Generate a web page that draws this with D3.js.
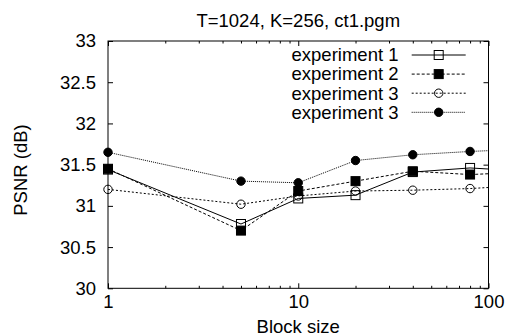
<!DOCTYPE html>
<html><head><meta charset="utf-8">
<script src="https://cdn.jsdelivr.net/npm/d3@7"></script>
<style>
html,body{margin:0;padding:0;background:#fff;}
text{font-family:"Liberation Sans",Arial,sans-serif;fill:#000;}
</style></head>
<body>
<svg id="chart" width="506" height="335"></svg>
<script>
const blockSizes = [1, 5, 10, 20, 40, 80, 160];
const exp1 = [31.44, 30.78, 31.09, 31.13, 31.41, 31.46, 31.42];
const exp2 = [31.45, 30.70, 31.18, 31.30, 31.42, 31.38, 31.41];
const exp3a = [31.20, 31.02, 31.12, 31.18, 31.19, 31.21, 31.25];
const exp3b = [31.65, 31.30, 31.28, 31.55, 31.62, 31.66, 31.69];
const seriesNames = ["experiment 1", "experiment 2", "experiment 3", "experiment 3"];
const xTicks = [1, 10, 100];
const xMinorTicks = [2,3,4,5,6,7,8,9,20,30,40,50,60,70,80,90];
const yTicks = [30, 30.5, 31, 31.5, 32, 32.5, 33];
const title = "T=1024, K=256, ct1.pgm";
const xLabel = "Block size";
const yLabel = "PSNR (dB)";

const L = 108, R = 488.5, T = 41, B = 288.3;
const FS = 18.5;
const svg = d3.select("#chart");
const x = d3.scaleLog().domain([1, 100]).range([L, R]);
const y = d3.scaleLinear().domain([30, 33]).range([B, T]);

const series = [
  {name: seriesNames[0], values: exp1, marker: "square", filled: false, dash: null},
  {name: seriesNames[1], values: exp2, marker: "square", filled: true, dash: "3,2"},
  {name: seriesNames[2], values: exp3a, marker: "circle", filled: false, dash: "2,2"},
  {name: seriesNames[3], values: exp3b, marker: "circle", filled: true, dash: "1,1"}
];

svg.append("defs").append("clipPath").attr("id", "clip")
  .append("rect").attr("x", L).attr("y", T).attr("width", R - L).attr("height", B - T);

function styleAxis(g, labels) {
  g.select(".domain").remove();
  g.selectAll(".tick line").attr("stroke", "#000").attr("stroke-width", 1);
  g.selectAll("text").style("font-size", FS + "px").attr("fill", "#000");
  if (!labels) g.selectAll("text").remove();
}
const fmt = d => String(d);
svg.append("g").attr("transform", `translate(0,${B})`)
  .call(d3.axisBottom(x).tickValues(xTicks).tickFormat(fmt).tickSize(-5).tickSizeOuter(0).tickPadding(6.6))
  .call(g => styleAxis(g, true));
svg.append("g").attr("transform", `translate(0,${B})`)
  .call(d3.axisBottom(x).tickValues(xMinorTicks).tickSize(-2.5).tickSizeOuter(0))
  .call(g => styleAxis(g, false));
svg.append("g").attr("transform", `translate(0,${T})`)
  .call(d3.axisTop(x).tickValues(xTicks).tickSize(-5).tickSizeOuter(0))
  .call(g => styleAxis(g, false));
svg.append("g").attr("transform", `translate(0,${T})`)
  .call(d3.axisTop(x).tickValues(xMinorTicks).tickSize(-2.5).tickSizeOuter(0))
  .call(g => styleAxis(g, false));
svg.append("g").attr("transform", `translate(${L},0)`)
  .call(d3.axisLeft(y).tickValues(yTicks).tickFormat(fmt).tickSize(-5).tickSizeOuter(0).tickPadding(12))
  .call(g => styleAxis(g, true));
svg.append("g").attr("transform", `translate(${R},0)`)
  .call(d3.axisRight(y).tickValues(yTicks).tickSize(-5).tickSizeOuter(0))
  .call(g => styleAxis(g, false));

svg.append("rect").attr("x", L).attr("y", T).attr("width", R - L).attr("height", B - T)
  .attr("fill", "none").attr("stroke", "#000").attr("stroke-width", 1);

const line = d3.line().x((d, i) => x(blockSizes[i])).y(d => y(d));

function drawMarker(g, s, cx, cy) {
  if (s.marker === "square") {
    g.append("rect").attr("x", cx - 4.5).attr("y", cy - 4.5).attr("width", 9).attr("height", 9)
      .attr("fill", s.filled ? "#000" : "none").attr("stroke", "#000").attr("stroke-width", 1);
  } else {
    g.append("circle").attr("cx", cx).attr("cy", cy).attr("r", 4.2)
      .attr("fill", s.filled ? "#000" : "none").attr("stroke", "#000").attr("stroke-width", 1);
  }
}

series.forEach(s => {
  svg.append("path").datum(s.values).attr("d", line).attr("clip-path", "url(#clip)")
    .attr("fill", "none").attr("stroke", "#000").attr("stroke-width", 1)
    .attr("stroke-dasharray", s.dash);
  const g = svg.append("g");
  s.values.forEach((v, i) => {
    if (blockSizes[i] <= 100) drawMarker(g, s, x(blockSizes[i]), y(v));
  });
});

// legend
const legY = [55, 74.1, 93.2, 112.3];
series.forEach((s, i) => {
  const ly = legY[i];
  svg.append("text").attr("x", 398.5).attr("y", ly + 6.3).attr("text-anchor", "end")
    .style("font-size", FS + "px").text(s.name);
  svg.append("line").attr("x1", 411.7).attr("x2", 465.7).attr("y1", ly).attr("y2", ly)
    .attr("stroke", "#000").attr("stroke-width", 1).attr("stroke-dasharray", s.dash);
  drawMarker(svg.append("g"), s, 438.7, ly);
});

svg.append("text").attr("x", (L + R) / 2).attr("y", 27).attr("text-anchor", "middle")
  .style("font-size", FS + "px").text(title);
svg.append("text").attr("x", (L + R) / 2).attr("y", 332.5).attr("text-anchor", "middle")
  .style("font-size", FS + "px").text(xLabel);
svg.append("text").attr("transform", `translate(27,170) rotate(-90)`).attr("text-anchor", "middle")
  .style("font-size", FS + "px").text(yLabel);
</script>
</body></html>
